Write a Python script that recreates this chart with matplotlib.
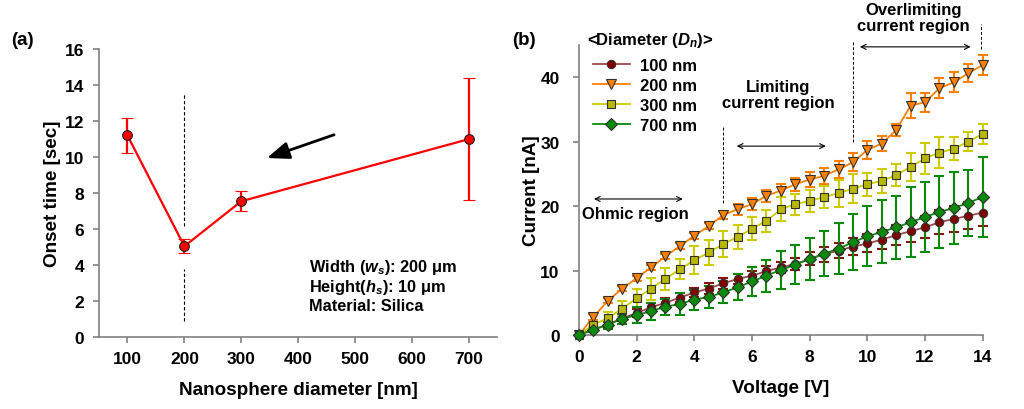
import matplotlib
matplotlib.use("Agg")
import matplotlib.pyplot as plt

plt.rcParams['font.family'] = ['Liberation Sans', 'DejaVu Sans']
plt.rcParams['font.weight'] = 'bold'
plt.rcParams['axes.labelweight'] = 'bold'
plt.rcParams['mathtext.fontset'] = 'custom'
plt.rcParams['mathtext.rm'] = 'Liberation Sans:bold'
plt.rcParams['mathtext.it'] = 'Liberation Sans:italic:bold'

# --- (a) onset time vs nanosphere diameter ---
diam = [100, 200, 300, 700]
onset = [11.2, 5.05, 7.55, 11.0]
onset_err = [0.97, 0.4, 0.56, 3.37]

# --- (b) I-V curves ---
volt = [0, 0.5, 1, 1.5, 2, 2.5, 3, 3.5, 4, 4.5, 5, 5.5, 6, 6.5, 7, 7.5,
        8, 8.5, 9, 9.5, 10, 10.5, 11, 11.5, 12, 12.5, 13, 13.5, 14]
i_100 = [0, 0.9, 1.6, 2.6, 3.4, 4.3, 5.0, 5.8, 6.6, 7.2,
         8.0, 8.7, 9.2, 9.9, 10.5, 11.0, 11.8, 12.5, 13.1, 13.7,
         14.2, 14.8, 15.5, 16.1, 16.7, 17.5, 18.0, 18.5, 19.0]
e_100 = [0, 0.3, 0.4, 0.5, 0.6, 0.6, 0.7, 0.7, 0.7, 0.8,
         0.8, 0.8, 0.8, 0.8, 0.85, 0.9, 1.0, 1.1, 1.2, 1.3,
         1.4, 1.5, 1.6, 1.6, 1.7, 1.85, 2.0, 2.1, 2.1]
i_200 = [0, 2.8, 5.3, 7.2, 8.8, 10.5, 12.2, 13.8, 15.4, 16.9,
         18.6, 19.5, 20.3, 21.6, 22.4, 23.4, 24.1, 24.7, 25.7, 26.8,
         28.7, 29.7, 31.8, 35.6, 36.1, 38.3, 39.2, 40.6, 41.9]
e_200 = [0, 0.4, 0.4, 0.4, 0.4, 0.4, 0.4, 0.5, 0.5, 0.5,
         0.6, 0.85, 0.9, 0.9, 0.95, 1.0, 1.15, 1.2, 1.3, 1.4,
         1.4, 1.1, 1.0, 2.0, 1.5, 1.6, 1.55, 1.4, 1.5]
i_300 = [0, 1.6, 2.6, 4.1, 5.7, 7.2, 8.7, 10.2, 11.6, 12.8,
         14.1, 15.2, 16.5, 17.7, 19.5, 20.3, 20.8, 21.4, 22.0, 22.7,
         23.4, 23.9, 24.8, 26.1, 27.4, 28.3, 28.9, 30.0, 31.2]
e_300 = [0, 0.4, 1.0, 1.15, 1.4, 1.7, 1.7, 1.55, 2.2, 2.0,
         2.0, 1.8, 1.75, 1.75, 1.85, 1.65, 1.7, 1.7, 2.1, 2.25,
         1.8, 1.8, 1.7, 2.15, 2.35, 2.35, 1.8, 1.45, 1.5]
i_700 = [0, 0.8, 1.6, 2.5, 3.1, 3.7, 4.4, 4.8, 5.5, 5.9,
         6.6, 7.4, 8.3, 9.2, 10.1, 10.9, 11.8, 12.6, 13.4, 14.4,
         15.3, 16.0, 16.7, 17.5, 18.3, 19.1, 19.7, 20.5, 21.4]
e_700 = [0, 0.3, 0.6, 0.8, 1.2, 1.3, 1.25, 1.7, 1.55, 1.7,
         1.7, 2.0, 2.2, 2.5, 2.9, 3.0, 3.2, 3.5, 3.95, 4.3,
         4.65, 4.9, 4.9, 5.4, 5.4, 5.6, 5.55, 5.1, 6.15]

labels = ['100 nm', '200 nm', '300 nm', '700 nm']
series = [i_100, i_200, i_300, i_700]
errors = [e_100, e_200, e_300, e_700]
line_cols = ['#a04848', '#ff8000', '#cccc00', '#0a8a0a']
face_cols = ['#800000', '#ff8000', '#b8b800', '#0a8a0a']
err_cols = ['#8b1010', '#ff8000', '#cccc00', '#0a8a0a']
markers = ['o', 'v', 's', 'D']
msizes = [6, 7, 6, 6]

fig = plt.figure(figsize=(10.24, 4.1), dpi=100)
spine_col = '#808080'


def style_axes(ax, ypad=6.5):
    for s in ['top', 'right']:
        ax.spines[s].set_visible(False)
    for s in ['left', 'bottom']:
        ax.spines[s].set_color(spine_col)
        ax.spines[s].set_linewidth(1.2)
    ax.tick_params(direction='out', color=spine_col, length=4, width=1.2,
                   labelsize=12.5, pad=6)
    ax.tick_params(axis='y', pad=ypad)


# ---------------- panel (a) ----------------
ax1 = fig.add_axes([0.0967, 0.175, 0.389, 0.703])
style_axes(ax1)
ax1.errorbar(diam, onset, yerr=onset_err, fmt='-o', color='#ff0000',
             lw=1.6, ms=7, mfc='#ff0000', mec='#202020', mew=0.8,
             ecolor='#ff0000', elinewidth=1.6, capsize=4, capthick=1.6)
ax1.plot([200, 200], [6.2, 13.5], color='k', lw=0.8, dashes=(3, 2))
ax1.plot([200, 200], [0.9, 3.8], color='k', lw=0.8, dashes=(3, 2))
ax1.annotate('', xy=(345, 9.95), xytext=(463, 11.24),
             arrowprops=dict(arrowstyle='-|>,head_length=0.9,head_width=0.35',
                             lw=2, color='k', mutation_scale=15,
                             shrinkA=0, shrinkB=0))
ax1.text(419, 3.9, r'Width ($w_s$): 200 μm', fontsize=11.8, va='center')
ax1.text(419, 2.8, r'Height($h_s$): 10 μm', fontsize=11.8, va='center')
ax1.text(419, 1.74, 'Material: Silica', fontsize=11.8, va='center')
ax1.set_xlim(50, 750)
ax1.set_ylim(0, 16)
ax1.set_xticks([100, 200, 300, 400, 500, 600, 700])
ax1.set_yticks(range(0, 17, 2))
ax1.set_xlabel('Nanosphere diameter [nm]', fontsize=13.6, labelpad=11)
ax1.set_ylabel('Onset time [sec]', fontsize=13.6, labelpad=3)
fig.text(0.0215, 0.902, '(a)', fontsize=13.5, va='center', ha='center')

# ---------------- panel (b) ----------------
ax2 = fig.add_axes([0.5654, 0.1805, 0.3943, 0.7075])
style_axes(ax2, ypad=10)
for ys, es, ec in zip(series, errors, err_cols):
    ax2.errorbar(volt, ys, yerr=es, fmt='none', ecolor=ec, elinewidth=1.5,
                 capsize=3.5, capthick=1.5, clip_on=False)
handles = []
for ys, lab, lc, fc, mk, ms in zip(series, labels, line_cols, face_cols,
                                   markers, msizes):
    h, = ax2.plot(volt, ys, '-', marker=mk, color=lc, lw=1.3, ms=ms,
                  mfc=fc, mec='#303030', mew=0.8, label=lab, clip_on=False,
                  zorder=3)
    handles.append(h)

ax2.set_xlim(0, 14)
ax2.set_ylim(0, 45)
ax2.set_xticks(range(0, 15, 2))
ax2.set_yticks([0, 10, 20, 30, 40])
ax2.set_xlabel('Voltage [V]', fontsize=13.6, labelpad=11)
ax2.set_ylabel('Current [nA]', fontsize=13.6, labelpad=0)

ax2.text(0.176, 1.02, r'<Diameter ($D_n$)>', transform=ax2.transAxes,
         fontsize=12, ha='center', va='center')
ax2.legend(handles=handles, loc='upper left', bbox_to_anchor=(0.035, 0.955),
           frameon=False, fontsize=12, handlelength=2.2, labelspacing=0.3,
           borderpad=0, borderaxespad=0, handletextpad=0.6)

# region annotations
dash_kw = dict(color='k', lw=0.7, dashes=(3, 2), clip_on=False)
ax2.plot([5.0, 5.0], [20.5, 32.2], **dash_kw)
ax2.plot([9.5, 9.5], [29.9, 45.6], **dash_kw)
ax2.plot([13.95, 13.95], [44.3, 48.2], **dash_kw)

arr_kw = dict(arrowstyle='<->', lw=0.8, color='k', mutation_scale=9,
              shrinkA=0, shrinkB=0)
ax2.annotate('', xy=(0.52, 21.1), xytext=(3.6, 21.1), arrowprops=arr_kw,
             annotation_clip=False)
ax2.annotate('', xy=(5.47, 29.3), xytext=(8.56, 29.3), arrowprops=arr_kw,
             annotation_clip=False)
ax2.annotate('', xy=(9.74, 44.7), xytext=(13.58, 44.7), arrowprops=arr_kw,
             annotation_clip=False)

ax2.text(0.1, 18.8, 'Ohmic region', fontsize=12, va='center', ha='left')
ax2.text(6.9, 37.3, 'Limiting\ncurrent region', fontsize=12, va='center',
         ha='center', linespacing=1.1)
ax2.text(11.6, 49.2, 'Overlimiting\ncurrent region', fontsize=12,
         va='center', ha='center', linespacing=1.1, clip_on=False)
fig.text(0.512, 0.902, '(b)', fontsize=13.5, va='center', ha='center')

fig.savefig('out.png', dpi=100)
